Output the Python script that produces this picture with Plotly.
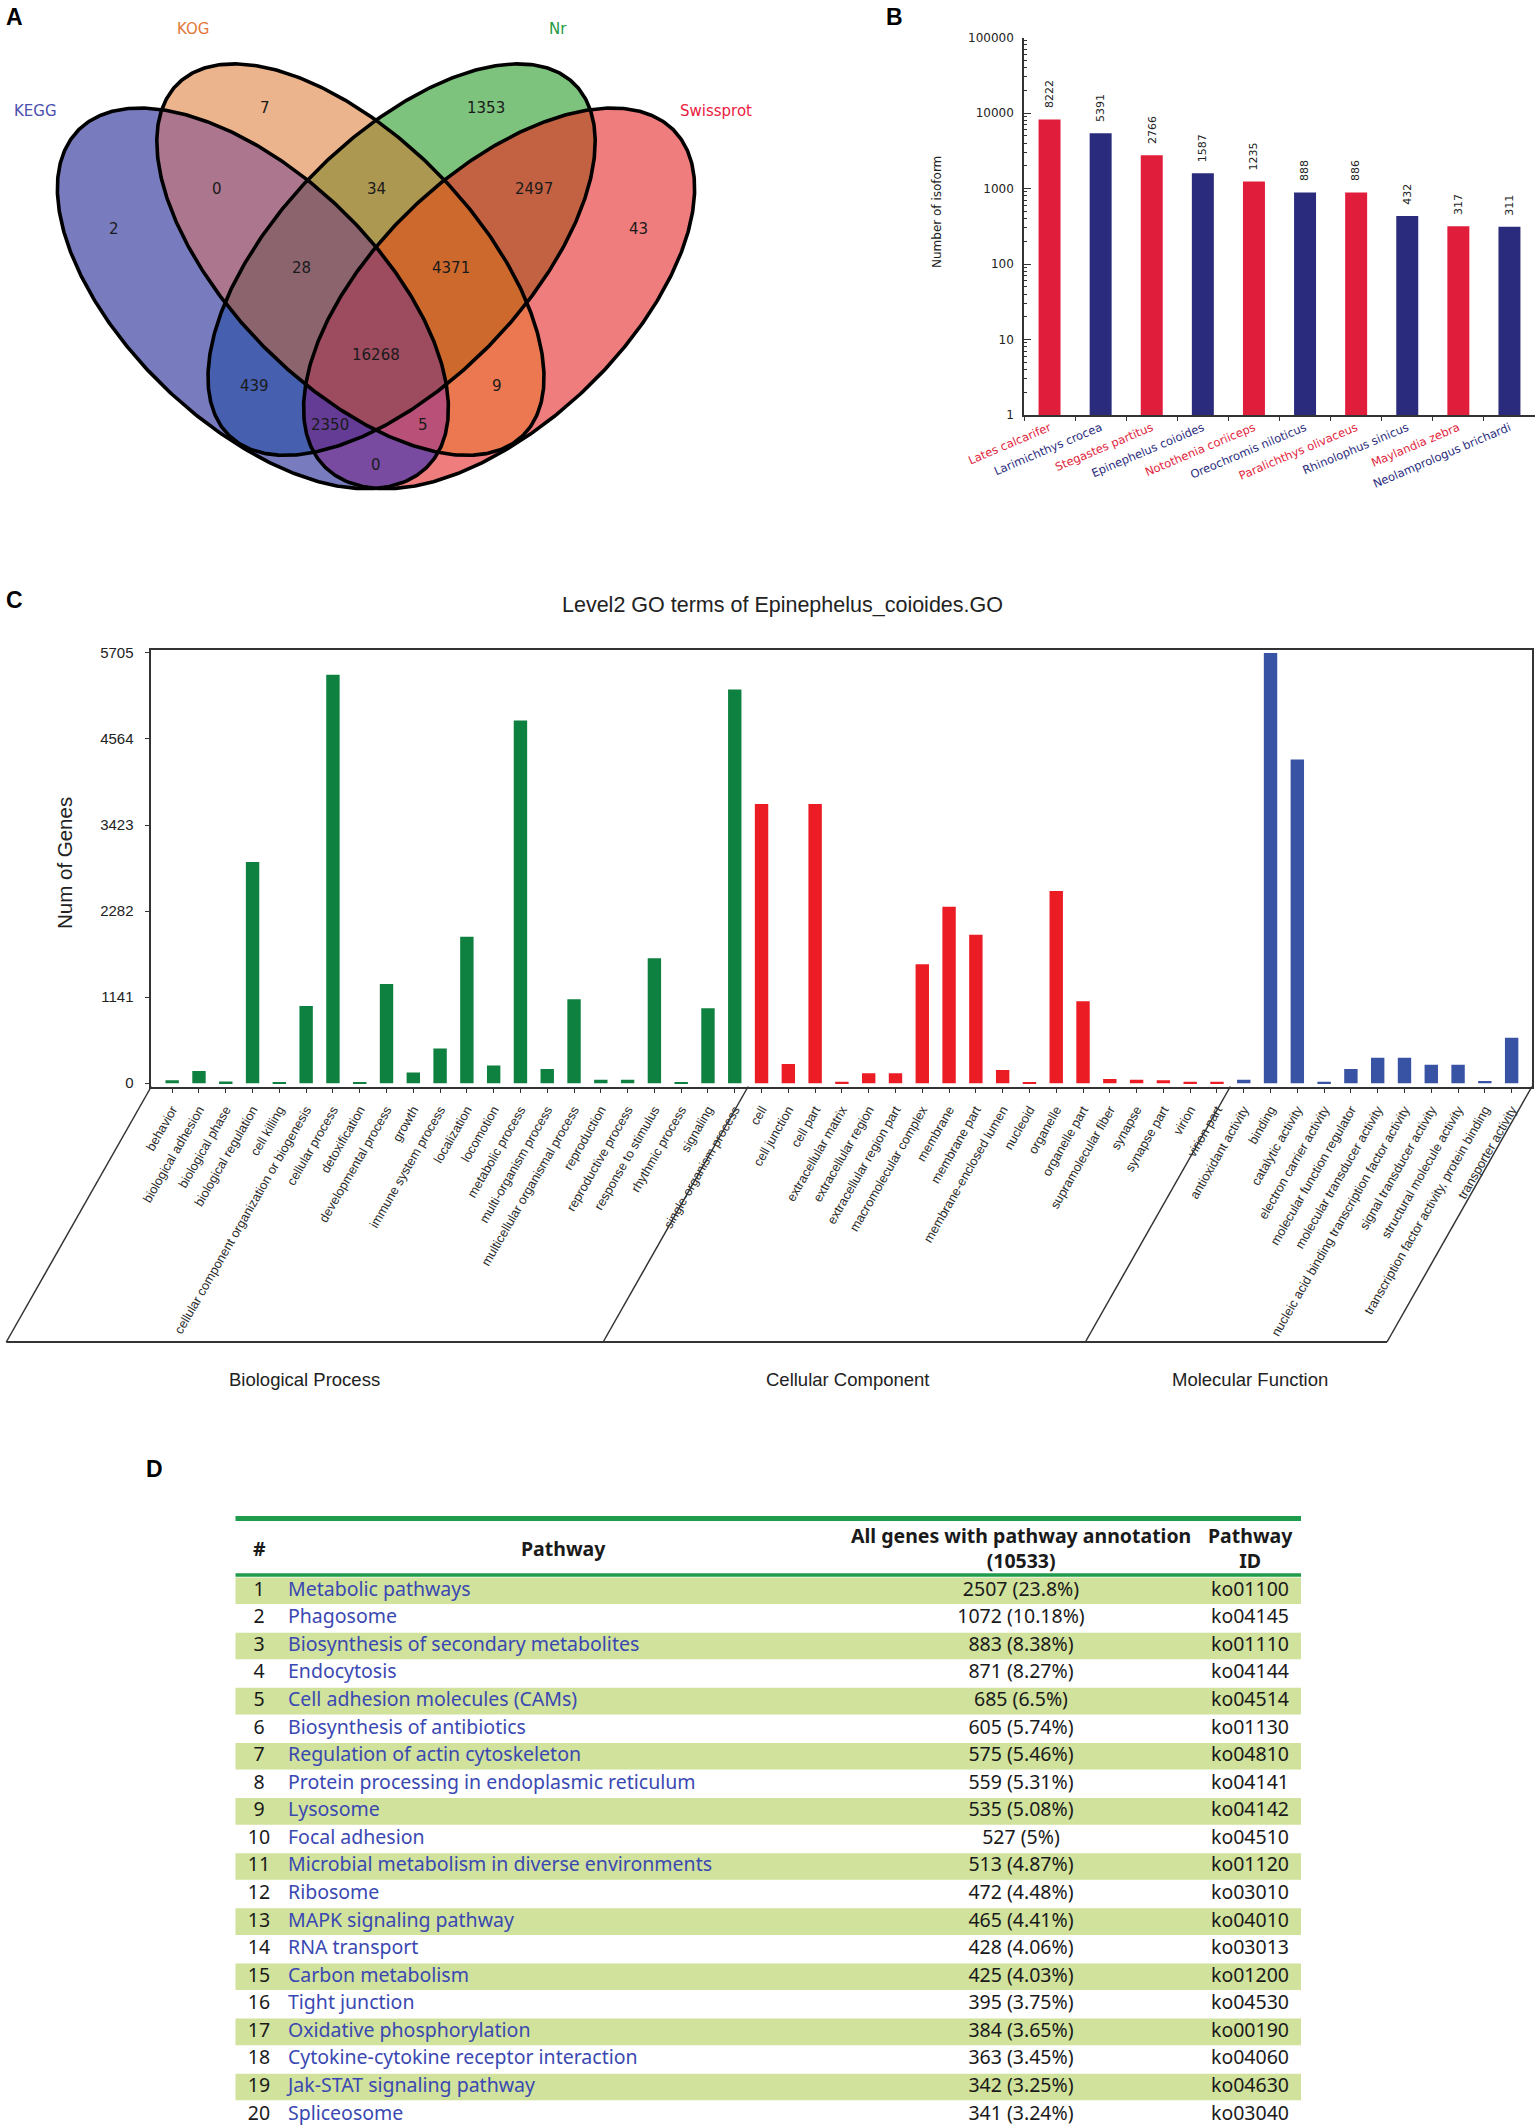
import numpy as np
import plotly.graph_objects as go

W, H = 1535, 2126


def fx(x):
    return x / W


def fy(y):
    return 1 - y / H


# ======================= DATA =======================
# ---- Panel A : Venn (bitmask KEGG=1, KOG=2, Nr=4, Swissprot=8)
venn_sets = ["KEGG", "KOG", "Nr", "Swissprot"]
region_keys = [1, 2, 4, 8, 3, 6, 12, 7, 14, 15, 5, 10, 13, 11, 9]
region_counts = [2, 7, 1353, 43, 0, 34, 2497, 28, 4371, 16268, 439, 9, 2350, 5, 0]

# ---- Panel B : top species hits
species = ["Lates calcarifer", "Larimichthys crocea", "Stegastes partitus",
           "Epinephelus coioides", "Notothenia coriiceps", "Oreochromis niloticus",
           "Paralichthys olivaceus", "Rhinolophus sinicus", "Maylandia zebra",
           "Neolamprologus brichardi"]
isoforms = [8222, 5391, 2766, 1587, 1235, 888, 886, 432, 317, 311]

# ---- Panel C : GO level 2
bp_terms = ["behavior", "biological adhesion", "biological phase", "biological regulation",
            "cell killing", "cellular component organization or biogenesis", "cellular process",
            "detoxification", "developmental process", "growth", "immune system process",
            "localization", "locomotion", "metabolic process", "multi-organism process",
            "multicellular organismal process", "reproduction", "reproductive process",
            "response to stimulus", "rhythmic process", "signaling", "single-organism process"]
bp_counts = [40, 163, 22, 2931, 10, 1024, 5415, 12, 1314, 141, 461, 1943, 233, 4808, 189,
             1112, 44, 44, 1657, 15, 993, 5221]
cc_terms = ["cell", "cell junction", "cell part", "extracellular matrix", "extracellular region",
            "extracellular region part", "macromolecular complex", "membrane", "membrane part",
            "membrane-enclosed lumen", "nucleoid", "organelle", "organelle part",
            "supramolecular fiber", "synapse", "synapse part", "virion", "virion part"]
cc_counts = [3701, 255, 3701, 20, 132, 132, 1578, 2338, 1969, 176, 15, 2549, 1086, 57, 44, 40, 20, 20]
mf_terms = ["antioxidant activity", "binding", "catalytic activity", "electron carrier activity",
            "molecular function regulator", "molecular transducer activity",
            "nucleic acid binding transcription factor activity", "signal transducer activity",
            "structural molecule activity", "transcription factor activity, protein binding",
            "transporter activity"]
mf_counts = [44, 5705, 4290, 20, 189, 338, 338, 246, 246, 30, 602]
go_groups = ["Biological Process", "Cellular Component", "Molecular Function"]

# ---- Panel D : KEGG pathway table
pathway_rank = list(range(1, 21))
pathway_names = ["Metabolic pathways", "Phagosome", "Biosynthesis of secondary metabolites",
                 "Endocytosis", "Cell adhesion molecules (CAMs)", "Biosynthesis of antibiotics",
                 "Regulation of actin cytoskeleton", "Protein processing in endoplasmic reticulum",
                 "Lysosome", "Focal adhesion", "Microbial metabolism in diverse environments",
                 "Ribosome", "MAPK signaling pathway", "RNA transport", "Carbon metabolism",
                 "Tight junction", "Oxidative phosphorylation",
                 "Cytokine-cytokine receptor interaction", "Jak-STAT signaling pathway",
                 "Spliceosome"]
pathway_genes = [2507, 1072, 883, 871, 685, 605, 575, 559, 535, 527, 513, 472, 465, 428, 425,
                 395, 384, 363, 342, 341]
pathway_pct = [23.8, 10.18, 8.38, 8.27, 6.5, 5.74, 5.46, 5.31, 5.08, 5, 4.87, 4.48, 4.41,
               4.06, 4.03, 3.75, 3.65, 3.45, 3.25, 3.24]
pathway_ids = ["ko01100", "ko04145", "ko01110", "ko04144", "ko04514", "ko01130", "ko04810",
               "ko04141", "ko04142", "ko04510", "ko01120", "ko03010", "ko04010", "ko03013",
               "ko01200", "ko04530", "ko00190", "ko04060", "ko04630", "ko03040"]
total_annotated = 10533

# ======================= STYLE / LAYOUT =======================
FONT_ARIAL = "Liberation Sans, Arial, sans-serif"
FONT_DV = "DejaVu Sans, sans-serif"
FONT_TAB = "Noto Sans, sans-serif"

# Venn geometry (pixel space): centre and two conjugate semi-diameters
ellipses = [
    ((252.9, 298.4), (152.8, 182.9), (122.0, -52.7)),    # KEGG
    ((350.4, 259.6), (152.0, 189.3), (119.9, -49.8)),    # KOG
    ((401.6, 259.6), (-152.0, 189.3), (-119.9, -49.8)),  # Nr
    ((499.1, 298.4), (-152.8, 182.9), (-122.0, -52.7)),  # Swissprot
]
region_colors = {1: "#787cbe", 2: "#ebb48c", 4: "#7dc37d", 8: "#f07d7d", 3: "#ac768e",
                 6: "#ac9850", 12: "#c36143", 7: "#8c646e", 14: "#cd692d", 15: "#9d4b5f",
                 5: "#465faf", 10: "#eb7850", 13: "#643c96", 11: "#b95078", 9: "#784ba0"}
region_label_xy = [(114, 229), (265, 108), (486, 108), (638, 229), (217, 189), (376, 189),
                   (534, 189), (301, 268), (451, 268), (376, 355), (254, 386), (497, 386),
                   (330, 425), (423, 425), (376, 465)]
set_label_xy = [(35, 111), (193, 29), (558, 29), (716, 111)]
set_label_colors = ["#4b4fae", "#e2793b", "#1e9a40", "#ea2040"]


def ann(x, y, text, font, xref="paper", yref="paper", **kw):
    d = dict(x=x, y=y, xref=xref, yref=yref, text=text, showarrow=False, font=font,
             xanchor="center", yanchor="middle")
    d.update(kw)
    return d


fig = go.Figure()

# ---------- Panel A ----------
gx = np.arange(50, 706, 1.5)
gy = np.arange(55, 500, 1.5)
XX, YY = np.meshgrid(gx, gy)
mask = np.zeros(XX.shape, dtype=int)
for i, (c, M, N) in enumerate(ellipses):
    det = M[0] * N[1] - N[0] * M[1]
    dx, dy = XX - c[0], YY - c[1]
    a = (dx * N[1] - N[0] * dy) / det
    b = (M[0] * dy - dx * M[1]) / det
    mask |= ((a * a + b * b) <= 1).astype(int) << i
Z = mask.astype(float)
Z[mask == 0] = np.nan
cs = []
for k in range(1, 16):
    cs += [[(k - 1) / 15, region_colors[k]], [k / 15, region_colors[k]]]
fig.add_trace(go.Heatmap(x=gx, y=gy, z=Z, colorscale=cs, zmin=0.5, zmax=15.5,
                         showscale=False, hoverinfo="skip", xaxis="x", yaxis="y"))
t = np.linspace(0, 2 * np.pi, 500)
for c, M, N in ellipses:
    fig.add_trace(go.Scatter(x=c[0] + np.cos(t) * M[0] + np.sin(t) * N[0],
                             y=c[1] + np.cos(t) * M[1] + np.sin(t) * N[1],
                             mode="lines", line=dict(color="black", width=3.6),
                             hoverinfo="skip", showlegend=False, xaxis="x", yaxis="y"))

annotations = []
for (x, y), v in zip(region_label_xy, region_counts):
    annotations.append(ann(x, y, str(v), dict(family=FONT_DV, size=15, color="#1a1a1a"),
                           xref="x", yref="y"))
for (x, y), name, col in zip(set_label_xy, venn_sets, set_label_colors):
    annotations.append(ann(fx(x), fy(y), name, dict(family=FONT_DV, size=15, color=col)))

# ---------- Panel B ----------
red_b, blue_b = "#e11d3c", "#2a2b7d"
b_colors = [red_b if i % 2 == 0 else blue_b for i in range(len(species))]
fig.add_trace(go.Bar(x=species, y=isoforms, marker=dict(color=b_colors, line=dict(width=0)),
                     width=0.43, hoverinfo="skip", showlegend=False, xaxis="x2", yaxis="y2"))
for s, v in zip(species, isoforms):
    annotations.append(ann(s, np.log10(v), str(v), dict(family=FONT_DV, size=11, color="#222"),
                           xref="x2", yref="y2", textangle=-90, yanchor="bottom", yshift=9))
annotations.append(ann(fx(937), fy(212), "Number of isoform",
                       dict(family=FONT_DV, size=12, color="#222"), textangle=-90))
b_ticktext = [f'<span style="color:{c}">{s}</span>' for s, c in zip(species, b_colors)]

# ---------- Panel C ----------
go_terms = bp_terms + cc_terms + mf_terms
go_counts = bp_counts + cc_counts + mf_counts
green_c, red_c, blue_c = "#0e8040", "#ec1c24", "#3953a4"
go_colors = [green_c] * len(bp_terms) + [red_c] * len(cc_terms) + [blue_c] * len(mf_terms)
fig.add_trace(go.Bar(x=go_terms, y=go_counts, marker=dict(color=go_colors, line=dict(width=0)),
                     width=0.5, hoverinfo="skip", showlegend=False, xaxis="x3", yaxis="y3"))
ymax = max(go_counts)
c_ticks = [round(ymax * k / 5) for k in range(6)]
C_left, C_right, C_top, C_bot = 151.3, 1532.0, 650.0, 1086.5
x3_range = [-0.78, len(go_terms) - 1 + 0.76]
y3_range = [-ymax * 0.0077, ymax * 1.0067]
unit_px = (C_right - C_left) / (x3_range[1] - x3_range[0])


def c_px(idx):
    return C_left + (idx - x3_range[0]) * unit_px


slant = 145.0
n1, n2 = len(bp_terms), len(bp_terms) + len(cc_terms)
bounds_px = [C_left, c_px(n1 - 0.5), c_px(n2 - 0.5), C_right]
shapes = []
for bx in bounds_px:
    shapes.append(dict(type="line", xref="paper", yref="paper", x0=fx(bx), x1=fx(bx - slant),
                       y0=fy(C_bot), y1=fy(1342), line=dict(color="#333", width=1.5)))
shapes.append(dict(type="line", xref="paper", yref="paper", x0=fx(bounds_px[0] - slant),
                   x1=fx(bounds_px[-1] - slant), y0=fy(1342), y1=fy(1342),
                   line=dict(color="#333", width=2)))
group_offsets = [0, 4, 14]
for i, g in enumerate(go_groups):
    gxc = (bounds_px[i] + bounds_px[i + 1]) / 2 - slant + group_offsets[i]
    annotations.append(ann(fx(gxc), fy(1379), g, dict(family=FONT_ARIAL, size=18.5, color="#222")))
annotations.append(ann(fx(782), fy(605), "Level2 GO terms of Epinephelus_coioides.GO",
                       dict(family=FONT_ARIAL, size=21.5, color="#222")))
annotations.append(ann(fx(64), fy(863), "Num of Genes",
                       dict(family=FONT_ARIAL, size=20.5, color="#222"), textangle=-90))

# ---------- Panel D ----------
T_left, T_right = 235.5, 1301.0
row_px = 27.57
T_rows_top = 1577.0
odd_rows = [r for r in pathway_rank if r % 2 == 1]
fig.add_trace(go.Bar(y=odd_rows, x=[T_right - T_left] * len(odd_rows), base=T_left,
                     orientation="h", width=0.965, marker=dict(color="#d0e29b", line=dict(width=0)),
                     hoverinfo="skip", showlegend=False, xaxis="x4", yaxis="y4"))
tab_font = dict(family=FONT_TAB, size=19.5, color="#1a1a1a")
fig.add_trace(go.Scatter(x=[259] * 20, y=pathway_rank, text=[str(r) for r in pathway_rank],
                         mode="text", textposition="middle center", textfont=tab_font,
                         hoverinfo="skip", showlegend=False, xaxis="x4", yaxis="y4"))
fig.add_trace(go.Scatter(x=[288] * 20, y=pathway_rank, text=pathway_names, mode="text",
                         textposition="middle right",
                         textfont=dict(family=FONT_TAB, size=19.5, color="#3a48b2"),
                         hoverinfo="skip", showlegend=False, xaxis="x4", yaxis="y4"))
fig.add_trace(go.Scatter(x=[1021] * 20, y=pathway_rank,
                         text=[f"{g} ({p:g}%)" for g, p in zip(pathway_genes, pathway_pct)],
                         mode="text", textposition="middle center", textfont=tab_font,
                         hoverinfo="skip", showlegend=False, xaxis="x4", yaxis="y4"))
fig.add_trace(go.Scatter(x=[1250] * 20, y=pathway_rank, text=pathway_ids, mode="text",
                         textposition="middle center", textfont=tab_font,
                         hoverinfo="skip", showlegend=False, xaxis="x4", yaxis="y4"))
hdr_font = dict(family=FONT_TAB, size=19.5, color="#1a1a1a")
for x, txt in [(259, "#"), (563, "Pathway"),
               (1021, f"All genes with pathway annotation<br>({total_annotated})"),
               (1250, "Pathway<br>ID")]:
    annotations.append(ann(fx(x), fy(1548), f"<b>{txt}</b>", hdr_font))
shapes.append(dict(type="line", xref="paper", yref="paper", x0=fx(T_left), x1=fx(T_right),
                   y0=fy(1518.5), y1=fy(1518.5), line=dict(color="#1e9b4b", width=5)))
shapes.append(dict(type="line", xref="paper", yref="paper", x0=fx(T_left), x1=fx(T_right),
                   y0=fy(1575), y1=fy(1575), line=dict(color="#1e9b4b", width=3.3)))
y4_top = 1 - (13.8 / row_px)
y4_bot = y4_top + (H - T_rows_top) / row_px

# ---------- Panel letters ----------
for x, y, L in [(15, 17, "A"), (894, 17, "B"), (15, 600, "C"), (154, 1469, "D")]:
    annotations.append(ann(fx(x), fy(y), f"<b>{L}</b>",
                           dict(family=FONT_ARIAL, size=23, color="black")))

axis_line = dict(showline=True, linecolor="#333", linewidth=1.5, showgrid=False,
                 zeroline=False, automargin=False)

fig.update_layout(
    width=W, height=H, autosize=False,
    margin=dict(l=0, r=0, t=0, b=0),
    paper_bgcolor="white", plot_bgcolor="rgba(0,0,0,0)",
    showlegend=False,
    font=dict(family=FONT_ARIAL, color="#222"),
    xaxis=dict(domain=[0, fx(760)], range=[0, 760], visible=False, anchor="y"),
    yaxis=dict(domain=[fy(545), 1], range=[545, 0], visible=False, anchor="x"),
    xaxis2=dict(domain=[fx(1024), 1.0], anchor="y2", type="category", range=[-0.5, 9.5],
                tickmode="array", tickvals=species, ticktext=b_ticktext, tickangle=-23,
                ticks="outside", ticklen=4, tickcolor="#333", tickson="boundaries",
                tickfont=dict(family=FONT_DV, size=11.5), **axis_line),
    yaxis2=dict(domain=[fy(415), fy(37.5)], anchor="x2", type="log", range=[0, 5], dtick=1,
                tickformat="d", ticks="inside", ticklen=7, tickcolor="#333",
                ticklabelstandoff=6,
                minor=dict(ticks="inside", ticklen=3, tickcolor="#333", dtick="D1", showgrid=False),
                tickfont=dict(family=FONT_DV, size=12, color="#222"), **axis_line),
    xaxis3=dict(domain=[fx(C_left), fx(C_right)], anchor="y3", type="category",
                range=x3_range, categoryorder="array", categoryarray=go_terms, mirror=True,
                ticks="outside", ticklen=5, tickcolor="#333", tickangle=-60,
                ticklabelstandoff=4,
                tickfont=dict(family=FONT_ARIAL, size=12.8, color="#2a2a2a"), **axis_line),
    yaxis3=dict(domain=[fy(C_bot), fy(C_top)], anchor="x3", range=y3_range, mirror=True,
                tickmode="array", tickvals=c_ticks, ticktext=[str(v) for v in c_ticks],
                ticks="outside", ticklen=5, tickcolor="#333", ticklabelstandoff=8,
                tickfont=dict(family=FONT_ARIAL, size=15, color="#222"), **axis_line),
    xaxis4=dict(domain=[0, 1], range=[0, W], visible=False, anchor="y4"),
    yaxis4=dict(domain=[0, fy(T_rows_top)], range=[y4_bot, y4_top], visible=False, anchor="x4"),
    annotations=annotations,
    shapes=shapes,
)

fig.write_html("out.html", config={"displayModeBar": False},
               post_script="document.body.style.margin='0';")
